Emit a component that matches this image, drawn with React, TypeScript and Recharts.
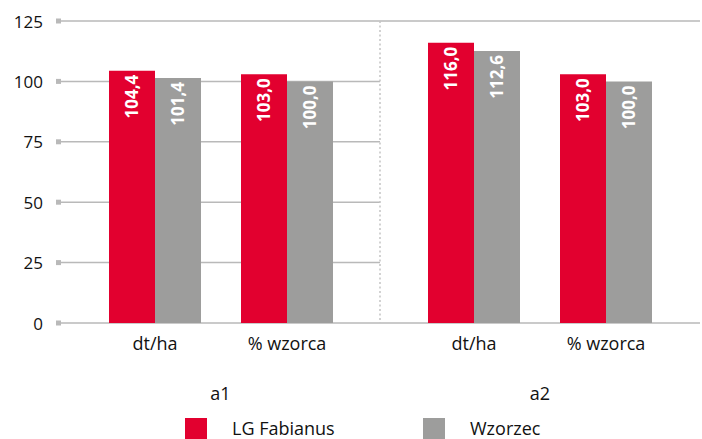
import { Bar, BarChart, CartesianGrid, LabelList, XAxis, YAxis } from 'recharts';

const categories = ['dt/ha', '% wzorca'];
const groups = ['a1', 'a2'];
const fabianus = [
  [104.4, 103.0],
  [116.0, 103.0],
];
const wzorzec = [
  [101.4, 100.0],
  [112.6, 100.0],
];
const yTicks = [0, 25, 50, 75, 100, 125];

const RED = '#e2002f';
const GRAY = '#9d9d9c';
const GRID = '#b9b9b9';
const TEXT = '#111';
const FONT = '"Open Sans", sans-serif';

const fmt = (v: number) => v.toFixed(1).replace('.', ',');

const LeftTick = ({ y, payload }: any) => (
  <g>
    <text x={43} y={y} textAnchor="end" dominantBaseline="central" fontSize={17} fill={TEXT} fontFamily={FONT}>
      {payload.value}
    </text>
    <rect x={56} y={y - 2.5} width={5} height={5} fill={GRID} />
  </g>
);

// small square closing each gridline on the right
const RightTick = ({ y }: any) => <rect x={319} y={y - 2.5} width={4} height={5} fill={GRID} />;

const ValueLabel = ({ x, y, width, value }: any) => {
  const cx = x + width / 2;
  const ty = y + 4;
  return (
    <text
      x={cx}
      y={ty}
      transform={`rotate(-90 ${cx} ${ty})`}
      textAnchor="end"
      dominantBaseline="central"
      fill="#fff"
      fontWeight={700}
      fontSize={17}
      fontFamily={FONT}
    >
      {fmt(value)}
    </text>
  );
};

function GroupChart({ index }: { index: number }) {
  const data = categories.map((c, i) => ({
    name: c,
    fab: fabianus[index][i],
    wz: wzorzec[index][i],
  }));
  const first = index === 0;
  return (
    <BarChart
      width={first ? 380 : 323}
      height={410}
      data={data}
      margin={{ top: 21, right: 0, left: 0, bottom: 0 }}
      barGap={0}
      barSize={46}
    >
      <CartesianGrid vertical={false} stroke={GRID} strokeWidth={1.5} />
      <XAxis
        dataKey="name"
        height={87}
        axisLine={false}
        tickLine={false}
        tickMargin={8}
        padding={{ left: 28, right: first ? 27 : 28 }}
        tick={{ fontSize: 18, fill: TEXT, fontFamily: FONT }}
        label={{
          value: groups[index],
          position: 'insideBottom',
          offset: 10,
          fontSize: 18,
          fill: TEXT,
          fontFamily: FONT,
        }}
      />
      {first ? (
        <YAxis domain={[0, 125]} ticks={yTicks} width={61} axisLine={false} tickLine={false} tick={<LeftTick />} />
      ) : (
        <YAxis
          domain={[0, 125]}
          ticks={yTicks}
          width={1}
          tick={false}
          tickLine={false}
          axisLine={{ stroke: '#c4c4c4', strokeWidth: 1.5, strokeDasharray: '2 2.5' }}
        />
      )}
      {!first && (
        <YAxis
          yAxisId="right"
          orientation="right"
          domain={[0, 125]}
          ticks={yTicks}
          width={2}
          axisLine={false}
          tickLine={false}
          tick={<RightTick />}
        />
      )}
      <Bar dataKey="fab" fill={RED} isAnimationActive={false}>
        <LabelList dataKey="fab" content={<ValueLabel />} />
      </Bar>
      <Bar dataKey="wz" fill={GRAY} isAnimationActive={false}>
        <LabelList dataKey="wz" content={<ValueLabel />} />
      </Bar>
    </BarChart>
  );
}

export default function App() {
  return (
    <div
      style={{
        position: 'absolute',
        left: 0,
        top: 0,
        width: 702,
        height: 439,
        background: '#fff',
        overflow: 'hidden',
        fontFamily: FONT,
      }}
    >
      <div style={{ position: 'absolute', left: 0, top: 0 }}>
        <GroupChart index={0} />
      </div>
      <div style={{ position: 'absolute', left: 379, top: 0 }}>
        <GroupChart index={1} />
      </div>
      <div style={{ position: 'absolute', left: 185, top: 418, width: 22, height: 22, background: RED }} />
      <div style={{ position: 'absolute', left: 232, top: 416, fontSize: 18, color: TEXT, lineHeight: '24px' }}>
        LG Fabianus
      </div>
      <div style={{ position: 'absolute', left: 423, top: 418, width: 22, height: 22, background: GRAY }} />
      <div style={{ position: 'absolute', left: 470, top: 416, fontSize: 18, color: TEXT, lineHeight: '24px' }}>
        Wzorzec
      </div>
    </div>
  );
}
